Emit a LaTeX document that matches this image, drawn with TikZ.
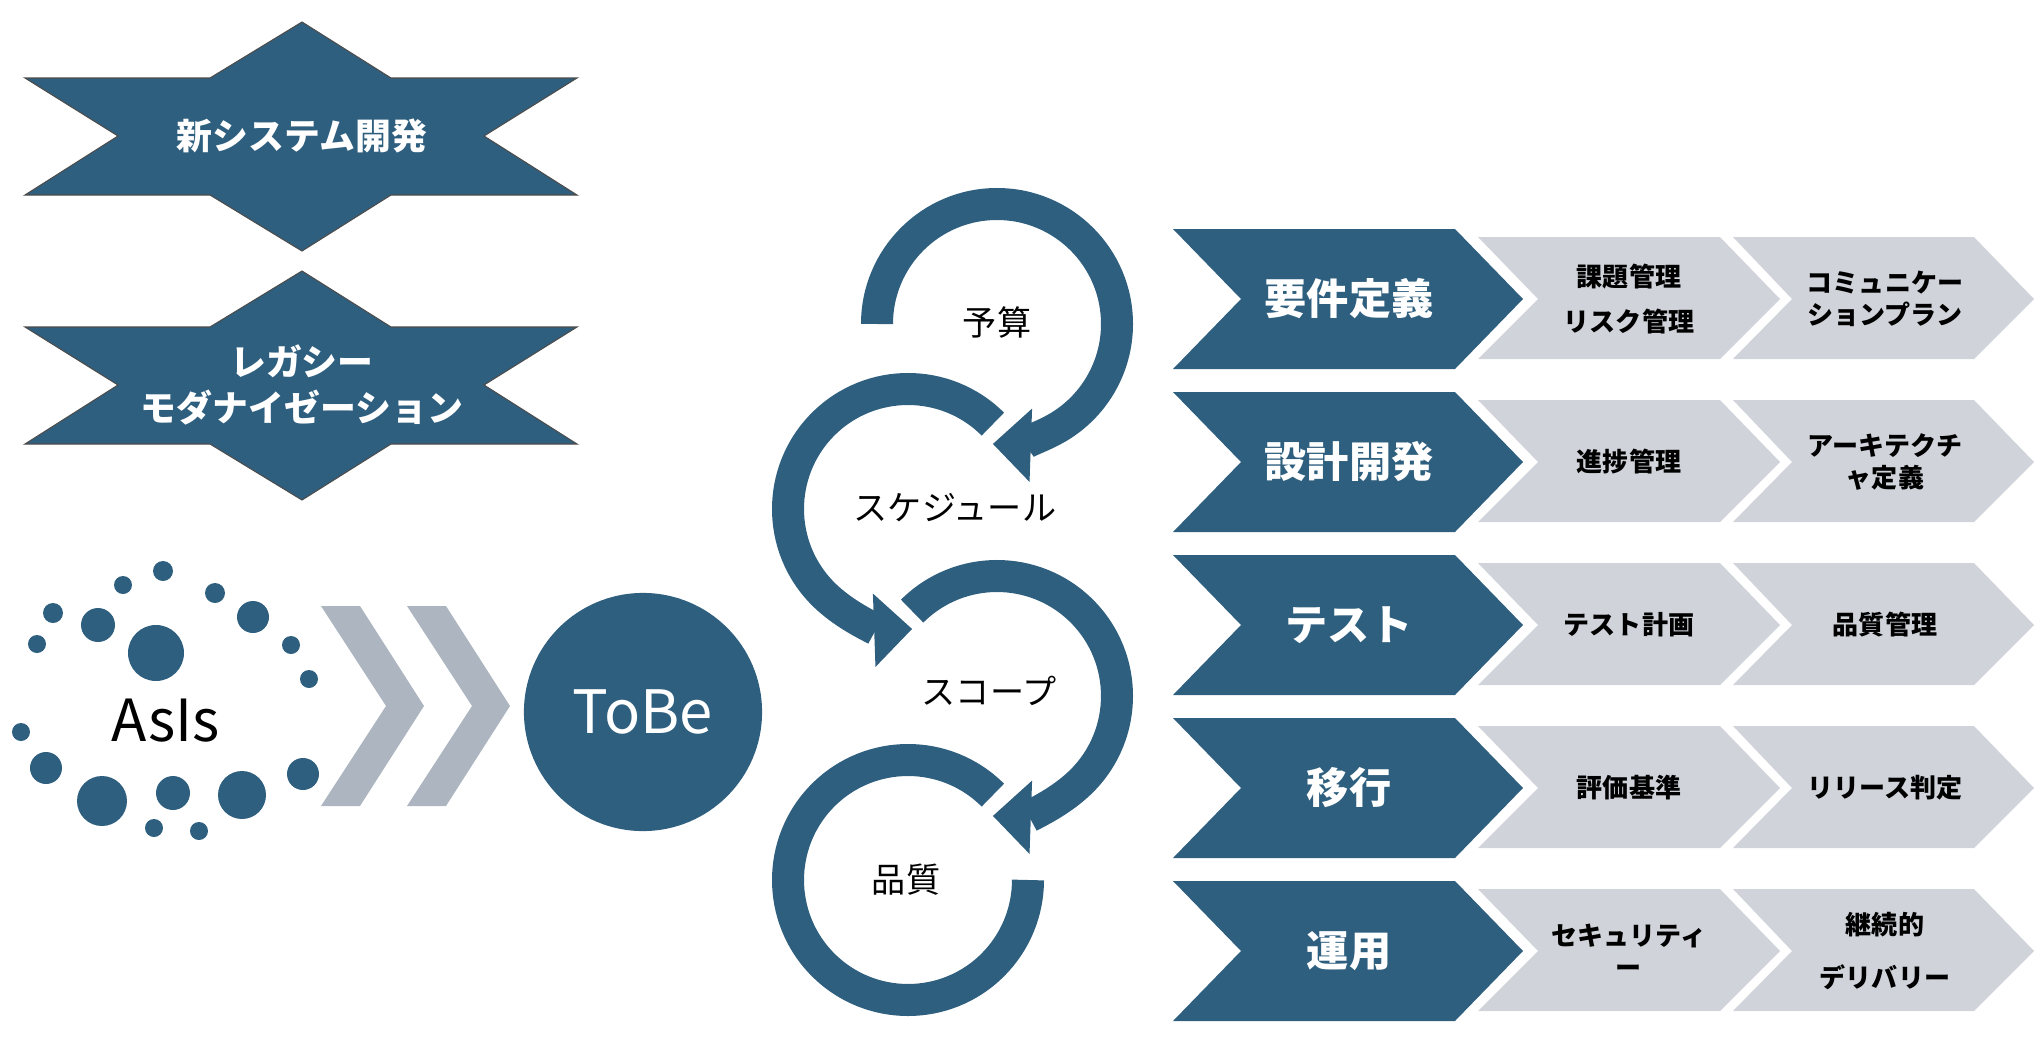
\documentclass[tikz,border=0pt]{standalone}
\usepackage{fontspec}
\setmainfont{Noto Sans CJK JP}
\usetikzlibrary{arrows.meta}
\definecolor{navy}{HTML}{2F5F7F}
\definecolor{steelgray}{HTML}{ADB5C0}
\definecolor{palegray}{HTML}{D0D4DA}

\begin{document}
\begin{tikzpicture}[x=0.01cm, y=-0.01cm, >={Triangle[width=7.1mm,length=3.8mm]}]

\tikzset{
    star text/.style={text=white, font=\fontsize{10.2}{14}\selectfont\bfseries, align=center},
    ring/.style={draw=navy, line width=3.2mm},
    ring label/.style={font=\fontsize{9.7}{12}\selectfont},
    phase/.style={text=white, font=\fontsize{12}{14}\selectfont\bfseries},
    task/.style={font=\fontsize{7.4}{9}\selectfont\bfseries, align=center}
}

\useasboundingbox (0,0) rectangle (2044,1042);

% Stars
\foreach \c/\t [count=\i] in {136/{新システム開発}, 385/{レガシー\\[-1pt]モダナイゼーション}} {
    \fill[navy, draw=black!70, line width=0.3pt] (25,\c-58) -- (210,\c-58) -- (302,\c-114) -- (391,\c-58) -- (577,\c-58)
        -- (484,\c) -- (577,\c+59) -- (391,\c+59) -- (302,\c+115) -- (210,\c+59) -- (25,\c+59) -- (118,\c) -- cycle;
    \node[star text] (star\i) at (302,\c) {\t};
}

% AsIs dots
\foreach \px/\py/\r in {163/571/10, 123/585/9, 215/593/10, 53/613/10, 98/625/17, 253/617/16,
    156/653/28, 37/644/9, 291/645/9, 309/679/9, 21/732/9, 46/768/16, 303/774/16,
    102/801/25, 173/793/17, 242/795/24, 154/828/9, 199/831/9}
    \fill[navy] (\px,\py) circle (\r);
\node[font=\fontsize{16.5}{18}\selectfont] (asis) at (166,721) {AsIs};

% Double chevron
\foreach \dx in {0,86}
    \fill[steelgray] (321+\dx,606) -- (360+\dx,606) -- (424+\dx,706) -- (360+\dx,806) -- (321+\dx,806) -- (386+\dx,706) -- cycle;

% ToBe
\node[circle, fill=navy, minimum size=2.38cm, text=white, font=\fontsize{17}{20}\selectfont] (tobe) at (643,712) {ToBe};

% Cycle arrows
\draw[ring, ->] (997,324) ++(-180:120) arc[start angle=-180, end angle=92, radius=120];
\draw[ring, ->] (908,509) ++(-45:120) arc[start angle=-45, end angle=-272, radius=120];
\draw[ring, ->] (997,696) ++(-135:120) arc[start angle=-135, end angle=92, radius=120];
\draw[ring] (908,880) ++(-45:120) arc[start angle=-45, end angle=-360, radius=120];
\node[ring label] (budget) at (997,322) {予算};
\node[ring label] (schedule) at (955,508) {スケジュール};
\node[ring label] (scope) at (989,691) {スコープ};
\node[ring label] (quality) at (906,880) {品質};

% Phase rows
\foreach \y/\p/\a/\b [count=\i] in {
    229/要件定義/{課題管理\\[4pt]リスク管理}/{コミュニケー\\ションプラン},
    392/設計開発/進捗管理/{アーキテクチ\\ャ定義},
    555/テスト/テスト計画/品質管理,
    718/移行/評価基準/リリース判定,
    881/運用/{セキュリティ\\ー}/{継続的\\[6pt]デリバリー}} {
    \fill[navy] (1173,\y) -- (1455,\y) -- (1523,\y+70) -- (1455,\y+140) -- (1173,\y+140) -- (1241,\y+70) -- cycle;
    \fill[palegray] (1478,\y+8) -- (1720,\y+8) -- (1780,\y+70) -- (1720,\y+130) -- (1478,\y+130) -- (1538,\y+70) -- cycle;
    \fill[palegray] (1733,\y+8) -- (1974,\y+8) -- (2034,\y+70) -- (1974,\y+130) -- (1733,\y+130) -- (1792,\y+70) -- cycle;
    \node[phase] (phase\i) at (1349,\y+70) {\p};
    \node[task] (taskA\i) at (1629,\y+70) {\a};
    \node[task] (taskB\i) at (1885,\y+70) {\b};
}

\end{tikzpicture}
\end{document}
